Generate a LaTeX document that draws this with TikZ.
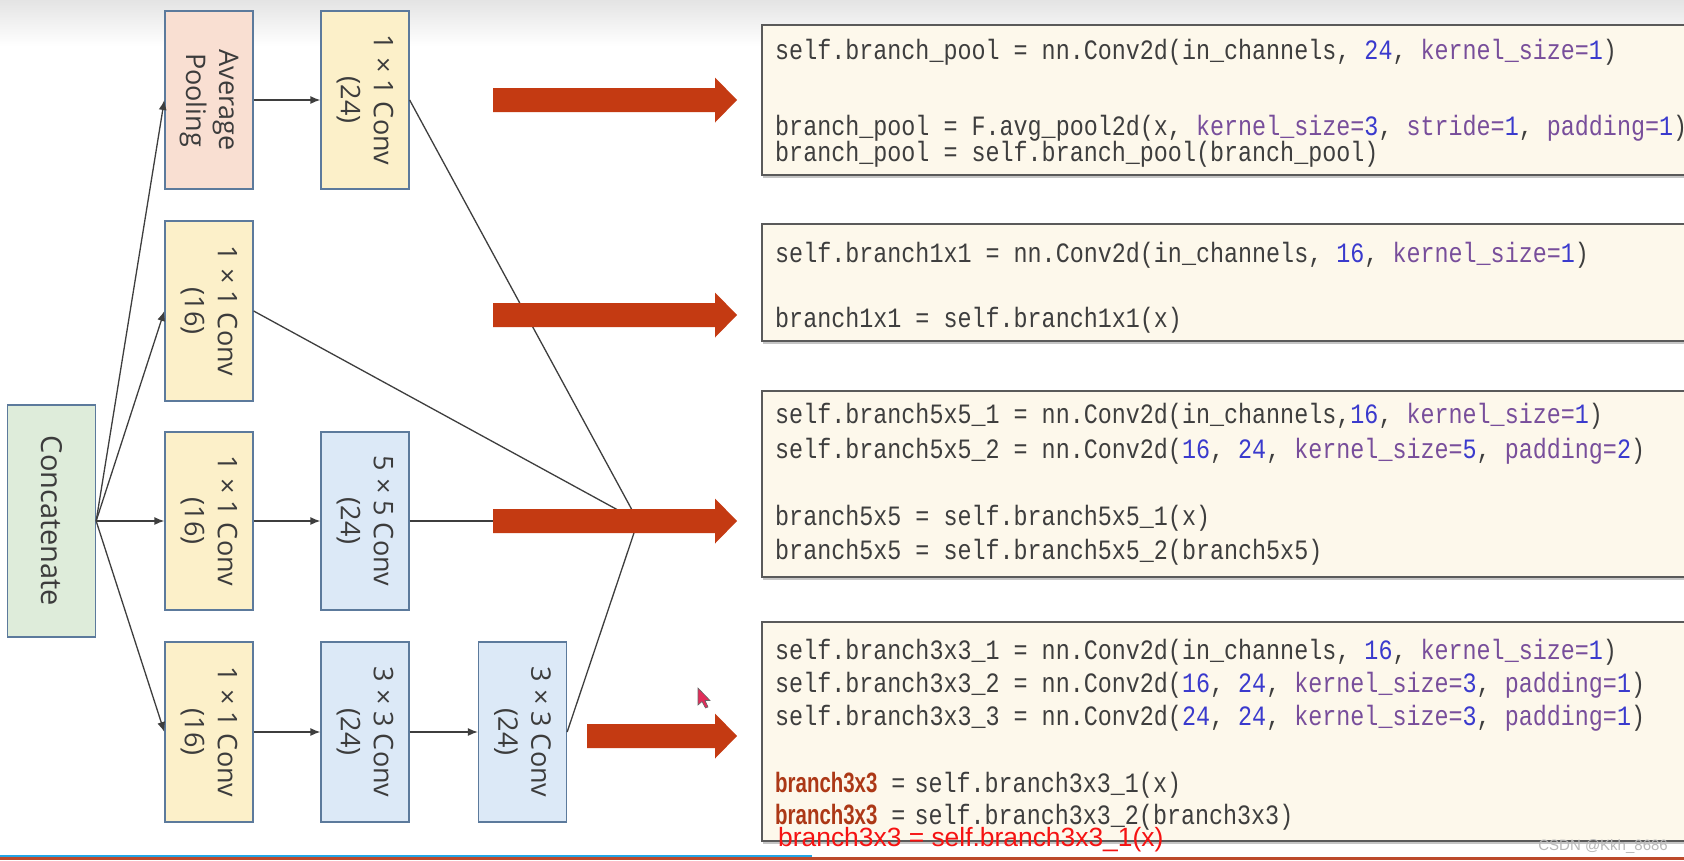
\documentclass[tikz,border=0pt]{standalone}
\usepackage{fontspec}
\setmainfont{Liberation Serif}
\newfontfamily\codefont[FakeStretch=0.835]{Liberation Mono}
\newfontfamily\boxfont{Open Sans}
\newfontfamily\boldcodefont[FakeStretch=0.73]{Liberation Sans}
\newfontfamily\redfont{Liberation Sans}
\usetikzlibrary{arrows.meta,shadows}
\definecolor{topgray}{RGB}{228,228,228}
\definecolor{peach}{RGB}{249,223,210}
\definecolor{yell}{RGB}{252,240,201}
\definecolor{blu}{RGB}{220,233,247}
\definecolor{grn}{RGB}{222,236,218}
\definecolor{boxborder}{RGB}{92,122,156}
\definecolor{boxtext}{RGB}{60,60,60}
\definecolor{linkgray}{RGB}{62,62,62}
\definecolor{arrowred}{RGB}{196,58,18}
\definecolor{codebg}{RGB}{253,248,235}
\definecolor{codeborder}{RGB}{90,90,90}
\definecolor{codegray}{RGB}{62,62,62}
\definecolor{numblue}{RGB}{58,58,205}
\definecolor{kwpurple}{RGB}{120,78,155}
\definecolor{boldred}{RGB}{172,56,22}
\definecolor{overlayred}{RGB}{245,18,18}
\definecolor{blueline}{RGB}{35,165,230}
\definecolor{brownline}{RGB}{188,74,44}
\definecolor{cursorred}{RGB}{225,45,90}
\newcommand\cnum[1]{\textcolor{numblue}{#1}}
\newcommand\ckw[1]{\textcolor{kwpurple}{#1}}
\newcommand\bword[1]{{\boldcodefont\fontsize{28}{30}\selectfont\bfseries\textcolor{boldred}{#1}}}
\begin{document}
\begin{tikzpicture}[x=1pt,y=-1pt,
  stagebox/.style={draw=boxborder, line width=1.3pt, minimum width=88pt, minimum height=178pt, inner sep=0pt},
  lbl/.style={rotate=-90, align=center, inner sep=0pt, text=boxtext, font=\boxfont\fontsize{27}{33}\selectfont},
  flow/.style={draw=linkgray, line width=1.3pt, -{Latex[length=10pt,width=8pt]}},
  link/.style={draw=linkgray, line width=1.3pt},
  codebox/.style={draw=codeborder, line width=1.5pt, fill=codebg, inner sep=0pt, anchor=north west,
     drop shadow={shadow xshift=1.5pt, shadow yshift=-3pt, opacity=0.45}},
  codeline/.style={anchor=base west, inner sep=0pt, text=codegray, font=\codefont\fontsize{28}{32}\selectfont},
  pics/bigarrow/.style={code={\fill[arrowred] (0,0) -- (-22,-22.5) -- (-22,-12) -- (-#1,-12) -- (-#1,12) -- (-22,12) -- (-22,22.5) -- cycle;}}
]
\useasboundingbox (0,0) rectangle (1684,860);
\clip (0,0) rectangle (1684,860);
\fill[white] (0,0) rectangle (1684,860);
\shade[top color=topgray, bottom color=white] (0,0) rectangle (1684,46);

% stage boxes
\node[stagebox, fill=grn, minimum height=232pt] (cat) at (51.5,521) {};
\node[lbl, font=\boxfont\fontsize{29}{33}\selectfont] (catt) at (cat.center) {Concatenate};
\node[stagebox, fill=peach] (ap) at (209,100) {};
\node[lbl] (apt) at (ap.center) {Average\\Pooling};
\node[stagebox, fill=yell] (c24) at (365,100) {};
\node[lbl] (c24t) at (c24.center) {1 × 1 Conv\\(24)};
\node[stagebox, fill=yell, minimum height=180pt] (b1) at (209,311) {};
\node[lbl] (b1t) at (b1.center) {1 × 1 Conv\\(16)};
\node[stagebox, fill=yell] (c5a) at (209,521) {};
\node[lbl] (c5at) at (c5a.center) {1 × 1 Conv\\(16)};
\node[stagebox, fill=blu] (c5b) at (365,521) {};
\node[lbl] (c5bt) at (c5b.center) {5 × 5 Conv\\(24)};
\node[stagebox, fill=yell, minimum height=180pt] (c3a) at (209,732) {};
\node[lbl] (c3at) at (c3a.center) {1 × 1 Conv\\(16)};
\node[stagebox, fill=blu, minimum height=180pt] (c3b) at (365,732) {};
\node[lbl] (c3bt) at (c3b.center) {3 × 3 Conv\\(24)};
\node[stagebox, fill=blu, minimum height=180pt] (c3c) at (522.5,732) {};
\node[lbl] (c3ct) at (c3c.center) {3 × 3 Conv\\(24)};

% connectors
\draw[flow] (cat.east) -- (ap.west);
\draw[flow] (cat.east) -- (b1.west);
\draw[flow] (cat.east) -- (c5a.west);
\draw[flow] (cat.east) -- (c3a.west);
\draw[flow] (ap.east) -- (c24.west);
\draw[flow] (c5a.east) -- (c5b.west);
\draw[flow] (c3a.east) -- (c3b.west);
\draw[flow] (c3b.east) -- (c3c.west);
\coordinate (C) at (638,521);
\draw[link] (c24.east) -- (C);
\draw[link] (b1.east) -- (C);
\draw[link] (c5b.east) -- (C);
\draw[link] (c3c.east) -- (C);

% big red arrows
\pic at (737,100) {bigarrow=244};
\pic at (737,315) {bigarrow=244};
\pic at (737,521) {bigarrow=244};
\pic at (737,736) {bigarrow=150};

% code boxes
\node[codebox, minimum width=940pt, minimum height=150pt] (cb1) at (761,24) {};
\node[codebox, minimum width=940pt, minimum height=117pt] (cb2) at (761,223) {};
\node[codebox, minimum width=940pt, minimum height=186pt] (cb3) at (761,390) {};
\node[codebox, minimum width=940pt, minimum height=219pt] (cb4) at (761,621) {};

\node[codeline] (l11) at (775,59) {self.branch\_pool = nn.Conv2d(in\_channels, \cnum{24}, \ckw{kernel\_size=}\cnum{1})};
\node[codeline] (l12) at (775,135) {branch\_pool = F.avg\_pool2d(x, \ckw{kernel\_size=}\cnum{3}, \ckw{stride=}\cnum{1}, \ckw{padding=}\cnum{1})};
\node[codeline] (l13) at (775,161) {branch\_pool = self.branch\_pool(branch\_pool)};

\node[codeline] (l21) at (775,262) {self.branch1x1 = nn.Conv2d(in\_channels, \cnum{16}, \ckw{kernel\_size=}\cnum{1})};
\node[codeline] (l22) at (775,327) {branch1x1 = self.branch1x1(x)};

\node[codeline] (l31) at (775,423) {self.branch5x5\_1 = nn.Conv2d(in\_channels,\cnum{16}, \ckw{kernel\_size=}\cnum{1})};
\node[codeline] (l32) at (775,458) {self.branch5x5\_2 = nn.Conv2d(\cnum{16}, \cnum{24}, \ckw{kernel\_size=}\cnum{5}, \ckw{padding=}\cnum{2})};
\node[codeline] (l33) at (775,525) {branch5x5 = self.branch5x5\_1(x)};
\node[codeline] (l34) at (775,559) {branch5x5 = self.branch5x5\_2(branch5x5)};

\node[codeline] (l41) at (775,659) {self.branch3x3\_1 = nn.Conv2d(in\_channels, \cnum{16}, \ckw{kernel\_size=}\cnum{1})};
\node[codeline] (l42) at (775,692) {self.branch3x3\_2 = nn.Conv2d(\cnum{16}, \cnum{24}, \ckw{kernel\_size=}\cnum{3}, \ckw{padding=}\cnum{1})};
\node[codeline] (l43) at (775,725) {self.branch3x3\_3 = nn.Conv2d(\cnum{24}, \cnum{24}, \ckw{kernel\_size=}\cnum{3}, \ckw{padding=}\cnum{1})};
\node[codeline] (l44) at (775,792) {\bword{branch3x3} =\kern-5pt\ self.branch3x3\_1(x)};
\node[codeline] (l45) at (775,824) {\bword{branch3x3} =\kern-5pt\ self.branch3x3\_2(branch3x3)};

% overlay red text
\node[anchor=base west, inner sep=0pt, text=overlayred, font=\redfont\fontsize{26.4}{30}\selectfont] (red) at (778,846) {branch3x3 = self.branch3x3\_1(x)};

% watermark
\node[anchor=base east, inner sep=0pt, text=black!28, font=\redfont\fontsize{15}{18}\selectfont] (wm) at (1668,850) {CSDN @Kkh\_8686};

% mouse cursor
\filldraw[fill=cursorred, draw=black!60, line width=0.6pt] (698,688) -- (698,705) -- (702,701.5) -- (705.5,708) -- (708,707) -- (705,700.5) -- (710,700.5) -- cycle;

% bottom lines
\fill[blueline] (0,854.5) rectangle (812,857);
\fill[brownline] (0,857) rectangle (1684,860);
\end{tikzpicture}
\end{document}
